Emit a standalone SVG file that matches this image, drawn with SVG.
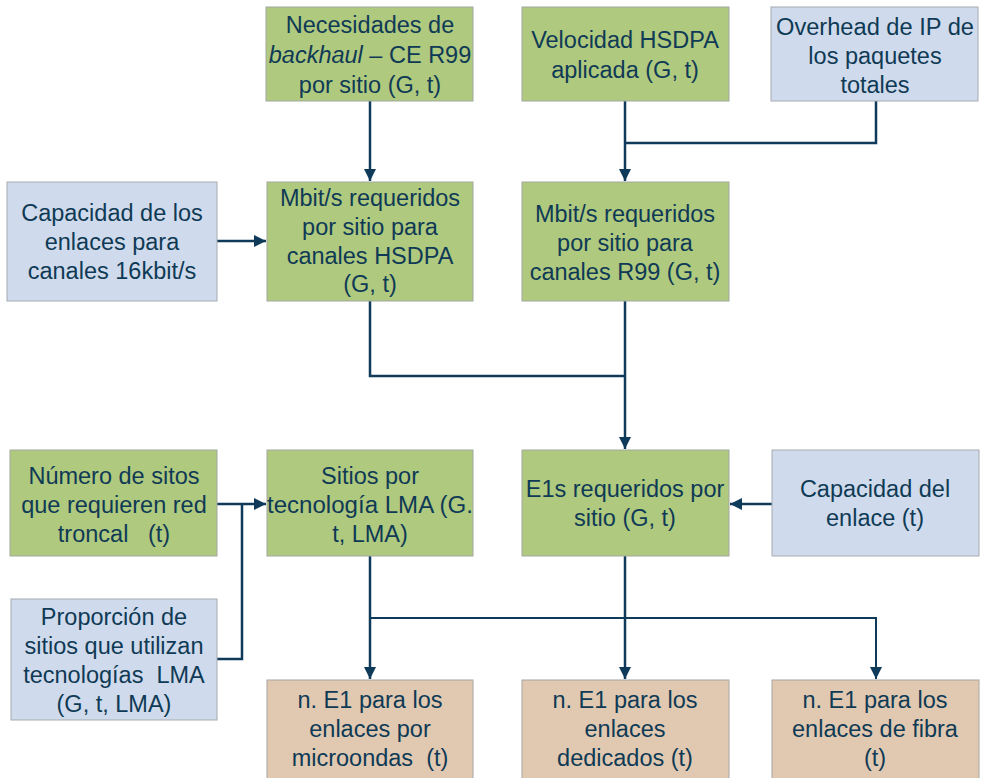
<svg xmlns="http://www.w3.org/2000/svg" width="982" height="778" viewBox="0 0 982 778">
<style>
.g{fill:#afc97f;stroke:#a3a8a0;stroke-width:1}
.b{fill:#cfdbec;stroke:#a6aab0;stroke-width:1}
.t{fill:#e1c9b1;stroke:#a8a4a0;stroke-width:1}
text{font-family:"Liberation Sans",Arial,sans-serif;font-size:23.5px;fill:#0f3a55;text-anchor:middle;white-space:pre}
.c{fill:none;stroke:#0f3a5a;stroke-width:2.5}
</style>
<defs>
<marker id="ah" markerUnits="userSpaceOnUse" markerWidth="12" markerHeight="12" viewBox="0 0 10 10" refX="10" refY="5" orient="auto">
<path d="M0,0 L10,5 L0,10 z" fill="#0f3a5a"/>
</marker>
</defs>
<rect width="982" height="778" fill="#ffffff"/>
<g id="connectors">
<path class="c" d="M370,101 V181" marker-end="url(#ah)"/>
<path class="c" d="M625,101 V181" marker-end="url(#ah)"/>
<path class="c" d="M876,101 V143 H625"/>
<path class="c" d="M217,241 H266" marker-end="url(#ah)"/>
<path class="c" d="M370,301 V376 H625"/>
<path class="c" d="M625,301 V449" marker-end="url(#ah)"/>
<path class="c" d="M217,504 H266" marker-end="url(#ah)"/>
<path class="c" d="M217,659 H242 V504"/>
<path class="c" d="M772,504 H730" marker-end="url(#ah)"/>
<path class="c" d="M370,556 V679" marker-end="url(#ah)"/>
<path class="c" d="M625,556 V679" marker-end="url(#ah)"/>
<path class="c" d="M370,618 H876 V679" marker-end="url(#ah)" style="stroke-width:2"/>
</g>
<g id="n1"><rect class="g" x="266" y="7" width="207" height="94"/>
<text x="370" y="33">Necesidades de</text>
<text x="370" y="63"><tspan font-style="italic">backhaul</tspan> – CE R99</text>
<text x="370" y="93">por sitio (G, t)</text></g>
<g id="n2"><rect class="g" x="522" y="7" width="207" height="94"/>
<text x="625" y="48">Velocidad HSDPA</text>
<text x="625" y="78">aplicada (G, t)</text></g>
<g id="n3"><rect class="b" x="771" y="7" width="207" height="94"/>
<text x="875" y="35" textLength="198" lengthAdjust="spacingAndGlyphs">Overhead de IP de</text>
<text x="875" y="64">los paquetes</text>
<text x="875" y="93">totales</text></g>
<g id="n4"><rect class="b" x="7" y="182" width="210" height="119"/>
<text x="112" y="221">Capacidad de los</text>
<text x="112" y="250">enlaces para</text>
<text x="112" y="279">canales 16kbit/s</text></g>
<g id="n5"><rect class="g" x="267" y="182" width="206" height="119"/>
<text x="370" y="206">Mbit/s requeridos</text>
<text x="370" y="235">por sitio para</text>
<text x="370" y="264">canales HSDPA</text>
<text x="370" y="292">(G, t)</text></g>
<g id="n6"><rect class="g" x="522" y="182" width="207" height="119"/>
<text x="625" y="222">Mbit/s requeridos</text>
<text x="625" y="251">por sitio para</text>
<text x="625" y="280">canales R99 (G, t)</text></g>
<g id="n7"><rect class="g" x="10" y="450" width="207" height="106"/>
<text x="114" y="484">Número de sitos</text>
<text x="114" y="513">que requieren red</text>
<text x="114" y="542">troncal   (t)</text></g>
<g id="n8"><rect class="g" x="267" y="450" width="206" height="106"/>
<text x="370" y="484">Sitios por</text>
<text x="370" y="513" textLength="206" lengthAdjust="spacingAndGlyphs">tecnología LMA (G.</text>
<text x="370" y="542">t, LMA)</text></g>
<g id="n9"><rect class="g" x="522" y="450" width="207" height="106"/>
<text x="625" y="497">E1s requeridos por</text>
<text x="625" y="526">sitio (G, t)</text></g>
<g id="n10"><rect class="b" x="772" y="450" width="207" height="106"/>
<text x="875" y="497">Capacidad del</text>
<text x="875" y="526">enlace (t)</text></g>
<g id="n11"><rect class="b" x="11" y="599" width="206" height="121"/>
<text x="114" y="625">Proporción de</text>
<text x="114" y="654">sitios que utilizan</text>
<text x="114" y="683">tecnologías  LMA</text>
<text x="114" y="712">(G, t, LMA)</text></g>
<g id="n12"><rect class="t" x="267" y="680" width="206" height="110"/>
<text x="370" y="708">n. E1 para los</text>
<text x="370" y="737">enlaces por</text>
<text x="370" y="766">microondas  (t)</text></g>
<g id="n13"><rect class="t" x="522" y="680" width="207" height="110"/>
<text x="625" y="708">n. E1 para los</text>
<text x="625" y="737">enlaces</text>
<text x="625" y="766">dedicados (t)</text></g>
<g id="n14"><rect class="t" x="772" y="680" width="207" height="110"/>
<text x="875" y="708">n. E1 para los</text>
<text x="875" y="737">enlaces de fibra</text>
<text x="875" y="766">(t)</text></g>
</svg>
